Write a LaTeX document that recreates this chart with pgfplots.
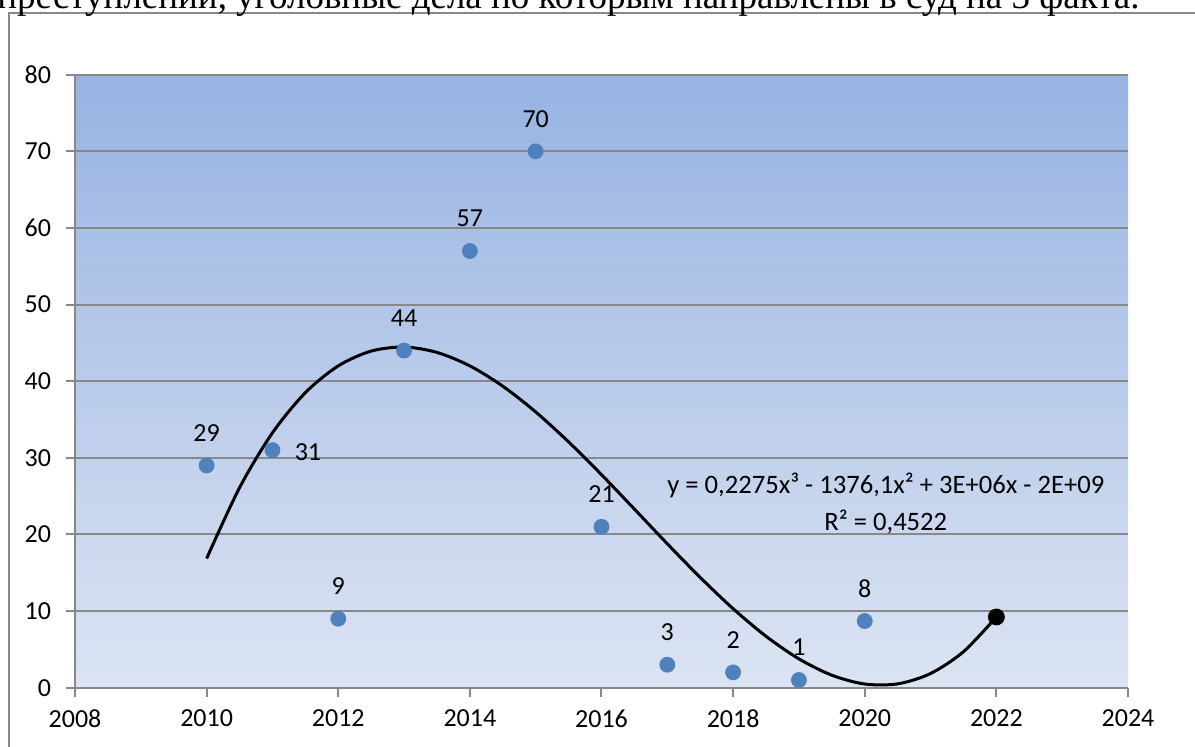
\documentclass[border=0pt]{standalone}
\usepackage{pgfplots}
\pgfplotsset{compat=1.18}
\usepackage{fontspec}
\setmainfont{Carlito}
\newfontfamily\serif{Liberation Serif}
\definecolor{gridgray}{HTML}{888888}
\definecolor{ptblue}{HTML}{4F81BD}
\definecolor{bgtop}{HTML}{97B3E2}
\definecolor{bgbot}{HTML}{DCE4F3}
\begin{document}
\begin{tikzpicture}
\useasboundingbox (0,0) rectangle (597.5pt,373pt);
\draw[gridgray, line width=1pt] (4.65pt,-1pt) -- (4.65pt,366.5pt) -- (600pt,366.5pt);
\node[anchor=base east, inner sep=0pt, font=\serif\fontsize{18.5}{20}\selectfont] at (570pt,368.5pt) {преступлений, уголовные дела по которым направлены в суд на 3 факта.};
\begin{axis}[
  at={(37.5pt,29.15pt)}, anchor=south west,
  scale only axis, width=526.5pt, height=306.5pt,
  xmin=2008, xmax=2024, ymin=0, ymax=80,
  xtick={2008,2010,...,2024}, ytick={0,10,...,80},
  axis x line*=bottom, axis y line*=left,
  ymajorgrids, grid style={gridgray, line width=1pt},
  axis line style={gridgray, line width=1pt},
  tick style={gridgray, line width=1pt},
  tick align=outside, major tick length=4.5pt,
  ticklabel style={font=\fontsize{13}{15}\selectfont},
  xticklabel style={yshift=-3pt},
  yticklabel style={xshift=-4pt},
  /pgf/number format/assume math mode=true,
  /pgf/number format/1000 sep={},
  axis background/.style={top color=bgtop, bottom color=bgbot},
  clip=false,
]
\addplot[black, line width=1.5pt, smooth, no marks] coordinates {
(2010,16.86) (2010.5,26.10) (2011,33.26) (2011.5,38.50) (2012,42.00) (2012.5,43.93)
(2013,44.46) (2013.5,43.76) (2014,42.00) (2014.5,39.35) (2015,35.99) (2015.5,32.08)
(2016,27.80) (2016.5,23.31) (2017,18.78) (2017.5,14.39) (2018,10.31) (2018.5,6.71)
(2019,3.76) (2019.5,1.63) (2020,0.48) (2020.5,0.50) (2021,1.85) (2021.5,4.70) (2022,9.23)
};
\addplot[only marks, mark=*, mark size=3.75pt, mark options={fill=ptblue, draw=ptblue},
  point meta=explicit symbolic, nodes near coords,
  nodes near coords style={font=\fontsize{13}{15}\selectfont, text=black, anchor=center, yshift=16.3pt}]
  table[meta=lab] {
x y lab
2010 29 29
2012 9 9
2013 44 44
2014 57 57
2015 70 70
2016 21 21
2017 3 3
2018 2 2
2019 1 1
2020 8.7 8
};
\addplot[only marks, mark=*, mark size=3.75pt, mark options={fill=ptblue, draw=ptblue},
  point meta=explicit symbolic, nodes near coords,
  nodes near coords style={font=\fontsize{13}{15}\selectfont, text=black, anchor=center, xshift=17.75pt, yshift=-1pt}]
  table[meta=lab] {
x y lab
2011 31 31
};
\addplot[only marks, mark=*, mark size=4pt, black] coordinates {(2022,9.23)};
\node[align=center, font=\fontsize{13.3}{18.5}\selectfont] at (axis cs:2020.32,24.1)
  {y = 0,2275x³ - 1376,1x² + 3E+06x - 2E+09\\R² = 0,4522};
\end{axis}
\end{tikzpicture}
\end{document}
